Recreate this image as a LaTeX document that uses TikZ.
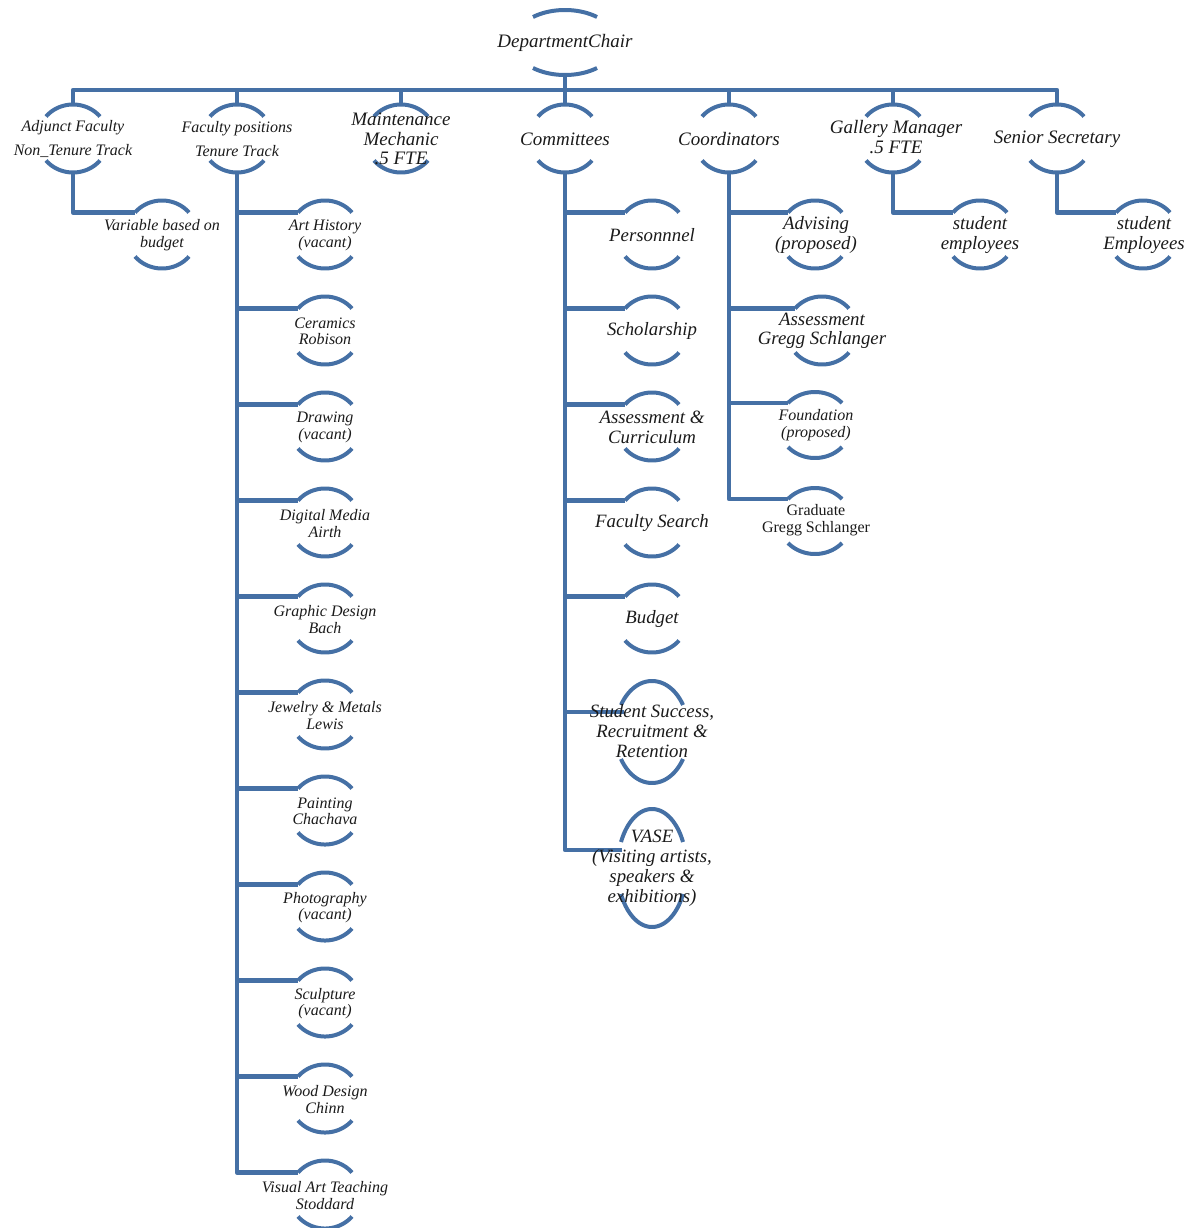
\documentclass[tikz,border=0pt]{standalone}
\usepackage{fontspec}
\setmainfont{Liberation Serif}
\definecolor{orgblue}{HTML}{4570A5}
\definecolor{txt}{HTML}{1A1A1A}
\tikzset{
  conn/.style={draw=orgblue, line width=4.5pt, line join=round},
  arcln/.style={draw=orgblue, line width=4pt},
  lbl/.style={text=txt, align=center, inner sep=0pt},
  big/.style={lbl, font=\itshape\fontsize{19}{19.5}\selectfont},
  mid/.style={lbl, font=\itshape\fontsize{18.8}{20}\selectfont},
  sml/.style={lbl, font=\itshape\fontsize{16}{16.5}\selectfont},
  smlup/.style={lbl, font=\fontsize{16}{17}\selectfont},
  wide/.style={lbl, font=\itshape\fontsize{16}{24}\selectfont},
}
% name, cx, cy, half width, apex offset, end offset
\newcommand\orgarcs[6]{%
  \pgfmathsetmacro\oaT{asin(#6/#5)}%
  \pgfmathsetmacro\oaR{#4/cos(\oaT)}%
  \pgfmathsetmacro\oaA{180+\oaT}%
  \pgfmathsetmacro\oaB{360-\oaT}%
  \pgfmathsetmacro\oaC{180-\oaT}%
  \draw[arcln] plot[domain=\oaA:\oaB, samples=40, smooth] ({#2+\oaR*cos(\x)},{#3+#5*sin(\x)});
  \draw[arcln] plot[domain=\oaT:\oaC, samples=40, smooth] ({#2+\oaR*cos(\x)},{#3+#5*sin(\x)});
  \coordinate (#1-t) at (#2,#3-#5);
  \coordinate (#1-b) at (#2,#3+#5);
  \coordinate (#1-l) at (#2-#4,#3-#6);
}
\begin{document}
\begin{tikzpicture}[x=1pt,y=-1pt]
\useasboundingbox (0,0) rectangle (1194,1228);
% ---------- arcs ----------
\orgarcs{chair}{565}{42.5}{32}{32.5}{25.5}
\orgarcs{adj}{73}{138.5}{27}{34}{22}
\orgarcs{fac}{237}{138.5}{27}{34}{22}
\orgarcs{mnt}{401}{138.5}{27}{34}{22}
\orgarcs{com}{565}{138.5}{27}{34}{22}
\orgarcs{crd}{729}{138.5}{27}{34}{22}
\orgarcs{gal}{893}{138.5}{27}{34}{22}
\orgarcs{sec}{1057}{138.5}{27}{34}{22}
\orgarcs{var}{162}{234.5}{27}{34}{22}
\foreach \i in {0,...,10}{
  \pgfmathsetmacro\cy{234.5+96*\i}
  \orgarcs{f\i}{325}{\cy}{27}{34}{22}
}
\orgarcs{c1}{652}{234.5}{27}{34}{22}
\orgarcs{c2}{652}{330.5}{27}{34}{22}
\orgarcs{c3}{652}{426.5}{27}{34}{22}
\orgarcs{c4}{652}{522.5}{27}{34}{22}
\orgarcs{c5}{652}{618.5}{27}{34}{22}
\orgarcs{ss}{652}{732}{31}{51}{27}
\orgarcs{vase}{652}{868}{31}{59}{26}
\orgarcs{d1}{815}{234.5}{27}{34}{22}
\orgarcs{d2}{822}{330.5}{27}{34}{22}
\orgarcs{d3}{815}{425}{27}{33}{22}
\orgarcs{d4}{815}{521}{27}{33}{22}
\orgarcs{g1}{980}{234.5}{27}{34}{22}
\orgarcs{s1}{1143}{234.5}{27}{34}{22}
\coordinate (ss-c) at (624,712);
\coordinate (vase-c) at (622,850);
\coordinate (busL) at (73,90);
% ---------- connectors ----------
\draw[conn] (chair-b) -- (chair-b |- busL);
\draw[conn] (adj-t) |- (sec-t |- busL) -- (sec-t);
\foreach \n in {fac,mnt,com,crd,gal}{\draw[conn] (\n-t) -- (\n-t |- busL);}
\draw[conn] (adj-b) |- (var-l);
\foreach \i in {0,...,10}{\draw[conn] (fac-b) |- (f\i-l);}
\foreach \n in {c1,c2,c3,c4,c5}{\draw[conn] (com-b) |- (\n-l);}
\draw[conn] (com-b) |- (ss-c);
\draw[conn] (com-b) |- (vase-c);
\foreach \n in {d1,d2,d3,d4}{\draw[conn] (crd-b) |- (\n-l);}
\draw[conn] (gal-b) |- (g1-l);
\draw[conn] (sec-b) |- (s1-l);
% ---------- labels ----------
\node[big] (chair) at (565,43) {DepartmentChair};
\node[wide] (adj) at (73,139) {Adjunct Faculty\\Non\_Tenure Track};
\node[wide] (fac) at (237,139) {Faculty positions\\Tenure Track};
\node[big] (mnt) at (401,139) {Maintenance\\Mechanic\\.5 FTE};
\node[big] (com) at (565,139) {Committees};
\node[big] (crd) at (729,139) {Coordinators};
\node[big,font=\itshape\fontsize{19}{20}\selectfont] (gal) at (896,137) {Gallery Manager\\.5 FTE};
\node[big] (sec) at (1057,139) {Senior Secretary};
\node[sml] (var) at (162,235) {Variable based on\\budget};
\node[sml] (f0) at (325,235.5) {Art History\\(vacant)};
\node[sml] (f1) at (325,331.5) {Ceramics\\Robison};
\node[sml] (f2) at (325,427.5) {Drawing\\(vacant)};
\node[sml] (f3) at (325,523.5) {Digital Media\\Airth};
\node[sml] (f4) at (325,619.5) {Graphic Design\\Bach};
\node[sml] (f5) at (325,715.5) {Jewelry \& Metals\\Lewis};
\node[sml] (f6) at (325,811.5) {Painting\\Chachava};
\node[sml] (f7) at (325,907.5) {Photography\\(vacant)};
\node[sml] (f8) at (325,1003.5) {Sculpture\\(vacant)};
\node[sml] (f9) at (325,1099.5) {Wood Design\\Chinn};
\node[sml] (f10) at (325,1195.5) {Visual Art Teaching\\Stoddard};
\node[mid] (c1) at (652,235) {Personnnel};
\node[mid] (c2) at (652,331) {Scholarship};
\node[mid] (c3) at (652,427) {Assessment \&\\Curriculum};
\node[mid] (c4) at (652,523) {Faculty Search};
\node[mid] (c5) at (652,619) {Budget};
\node[mid] (ss) at (652,731.5) {Student Success,\\Recruitment \&\\Retention};
\node[mid] (vase) at (652,868) {VASE\\(Visiting artists,\\speakers \&\\exhibitions)};
\node[mid] (d1) at (816,235) {Advising\\(proposed)};
\node[mid,font=\itshape\fontsize{18.8}{19}\selectfont] (d2) at (822,330.5) {Assessment\\Gregg Schlanger};
\node[sml] (d3) at (816,425) {Foundation\\(proposed)};
\node[smlup] (d4) at (816,520.5) {Graduate\\Gregg Schlanger};
\node[mid] (g1) at (980,235) {student\\employees};
\node[mid] (s1) at (1144,235) {student\\Employees};
\end{tikzpicture}
\end{document}
